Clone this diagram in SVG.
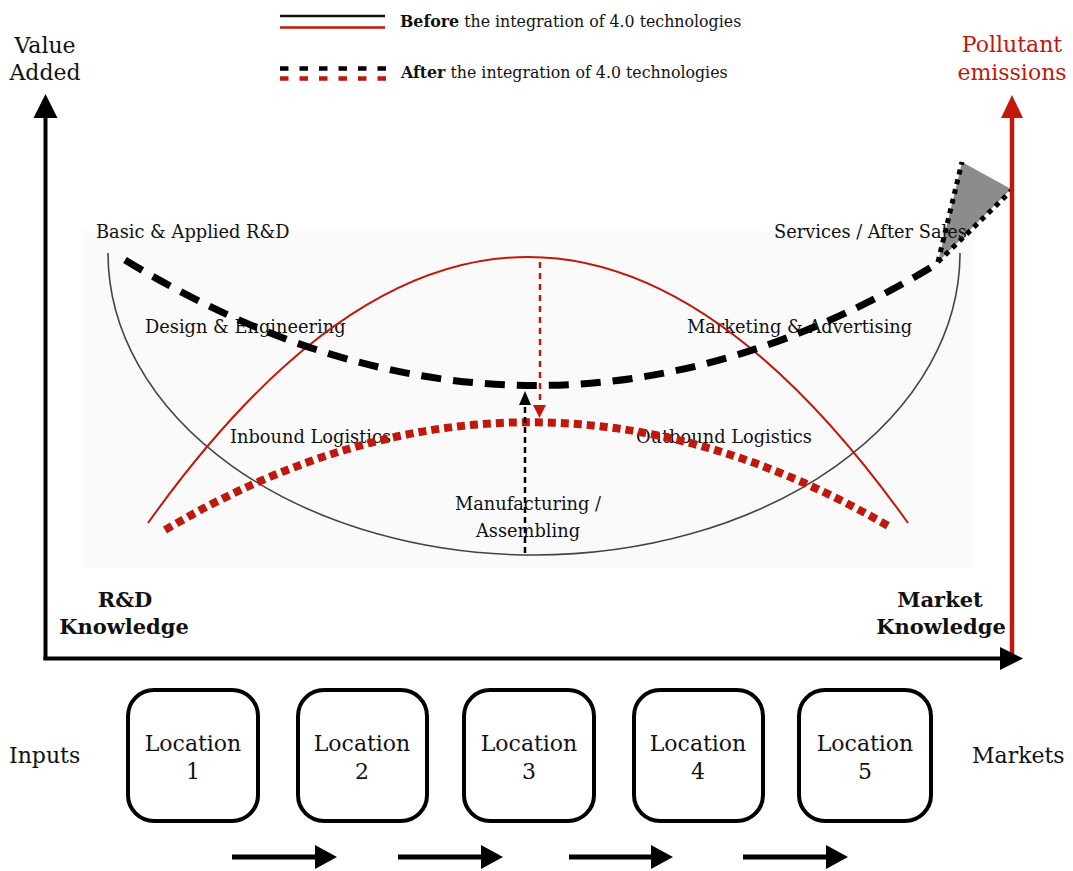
<svg xmlns="http://www.w3.org/2000/svg" width="1073" height="871" viewBox="0 0 1073 871">
<defs>
<style>
text{font-family:"DejaVu Serif","Liberation Serif",serif;fill:#111}
.lbl{font-size:17.8px}
.ax{font-size:22px}
.kn{font-size:21px;font-weight:bold;text-anchor:middle}
.loc{font-size:22px;text-anchor:middle}
.leg{font-size:15.8px}
.red{fill:#c0180c}
.box{fill:#fff;stroke:#000;stroke-width:4}
</style>
</defs>
<rect x="81" y="231" width="894" height="337" fill="#fafafa"/>
<g id="legend">
<line x1="280" y1="16" x2="385" y2="16" stroke="#111" stroke-width="2.5"/>
<line x1="280" y1="27.5" x2="385" y2="27.5" stroke="#c0180c" stroke-width="2.5"/>
<line x1="280" y1="68.5" x2="386" y2="68.5" stroke="#000" stroke-width="4.5" stroke-dasharray="8.5 11"/>
<line x1="280" y1="78.5" x2="386" y2="78.5" stroke="#c0180c" stroke-width="4.5" stroke-dasharray="8.5 11"/>
<text class="leg" x="400" y="27"><tspan font-weight="bold">Before</tspan> the integration of 4.0 technologies</text>
<text class="leg" x="401" y="78"><tspan font-weight="bold">After</tspan> the integration of 4.0 technologies</text>
</g>
<g id="emission-wedge">
<polygon points="938,262 962,162 1011,189" fill="#8c8c8c"/>
<line x1="938" y1="262" x2="962" y2="162" stroke="#000" stroke-width="5" stroke-dasharray="5 5"/>
<line x1="938" y1="262" x2="1012" y2="190" stroke="#000" stroke-width="5" stroke-dasharray="5 5"/>
</g>
<g id="axis-labels">
<text class="ax" x="45" y="53" text-anchor="middle">Value</text>
<text class="ax" x="45" y="80" text-anchor="middle">Added</text>
<text class="ax red" x="1012" y="52" text-anchor="middle">Pollutant</text>
<text class="ax red" x="1012" y="80" text-anchor="middle">emissions</text>
<text class="kn" x="125" y="607">R&amp;D</text>
<text class="kn" x="124" y="634">Knowledge</text>
<text class="kn" x="940" y="607">Market</text>
<text class="kn" x="941" y="634">Knowledge</text>
<text class="ax" x="9" y="763">Inputs</text>
<text class="ax" x="972" y="763">Markets</text>
</g>
<g id="activity-labels">
<text class="lbl" x="96" y="238">Basic &amp; Applied R&amp;D</text>
<text class="lbl" x="774" y="238">Services / After Sales</text>
<text class="lbl" x="145" y="333">Design &amp; Engineering</text>
<text class="lbl" x="687" y="333">Marketing &amp; Advertising</text>
<text class="lbl" x="230" y="443">Inbound Logistics</text>
<text class="lbl" x="636" y="443">Outbound Logistics</text>
<text class="lbl" x="528" y="510" text-anchor="middle">Manufacturing /</text>
<text class="lbl" x="528" y="537" text-anchor="middle">Assembling</text>
</g>
<g id="connectors" fill="none">
<path id="smile-curve" d="M108,253 A426,302 0 0 0 960,253" stroke="#444" stroke-width="1.6"/>
<path id="before-red" d="M148,523 Q528,-9 908,523" stroke="#c0180c" stroke-width="2"/>
<path id="after-black" d="M125,260 Q535,510 940,262" stroke="#000" stroke-width="7" stroke-dasharray="20 12"/>
<path id="after-red" d="M165,530 Q527,316 890,527" stroke="#c0180c" stroke-width="8" stroke-dasharray="8 5"/>
<line x1="540" y1="262" x2="540" y2="406" stroke="#c0180c" stroke-width="2.5" stroke-dasharray="6 5"/>
<polygon points="533,405 546,405 539.5,418" fill="#c0180c"/>
<line x1="525" y1="553" x2="525" y2="404" stroke="#000" stroke-width="2.5" stroke-dasharray="6 4"/>
<polygon points="519,405 531,405 525,391" fill="#000"/>
<line x1="45.5" y1="660" x2="45.5" y2="112" stroke="#000" stroke-width="4"/>
<polygon points="33.5,118 57.5,118 45.5,94" fill="#000"/>
<line x1="1012" y1="660" x2="1012" y2="112" stroke="#c0180c" stroke-width="4.5"/>
<polygon points="1001,118 1023,118 1012,95" fill="#c0180c"/>
<line x1="43.5" y1="658.5" x2="1004" y2="658.5" stroke="#000" stroke-width="4"/>
<polygon points="1000,647 1000,670 1023,658.5" fill="#000"/>
<g id="flow-arrows">
<line x1="232" y1="857" x2="318" y2="857" stroke="#000" stroke-width="5"/>
<polygon points="315,845 315,869 337,857" fill="#000"/>
<line x1="398" y1="857" x2="484" y2="857" stroke="#000" stroke-width="5"/>
<polygon points="481,845 481,869 503,857" fill="#000"/>
<line x1="569" y1="857" x2="654" y2="857" stroke="#000" stroke-width="5"/>
<polygon points="651,845 651,869 673,857" fill="#000"/>
<line x1="743" y1="857" x2="829" y2="857" stroke="#000" stroke-width="5"/>
<polygon points="826,845 826,869 848,857" fill="#000"/>
</g>
</g>
<g id="location-1"><rect class="box" x="128" y="690" width="130" height="131" rx="26"/><text class="loc" x="193" y="751">Location</text><text class="loc" x="193" y="779">1</text></g>
<g id="location-2"><rect class="box" x="298" y="690" width="129" height="131" rx="26"/><text class="loc" x="362" y="751">Location</text><text class="loc" x="362" y="779">2</text></g>
<g id="location-3"><rect class="box" x="464" y="690" width="130" height="131" rx="26"/><text class="loc" x="529" y="751">Location</text><text class="loc" x="529" y="779">3</text></g>
<g id="location-4"><rect class="box" x="634" y="690" width="129" height="131" rx="26"/><text class="loc" x="698" y="751">Location</text><text class="loc" x="698" y="779">4</text></g>
<g id="location-5"><rect class="box" x="799" y="690" width="132" height="131" rx="26"/><text class="loc" x="865" y="751">Location</text><text class="loc" x="865" y="779">5</text></g>
</svg>
